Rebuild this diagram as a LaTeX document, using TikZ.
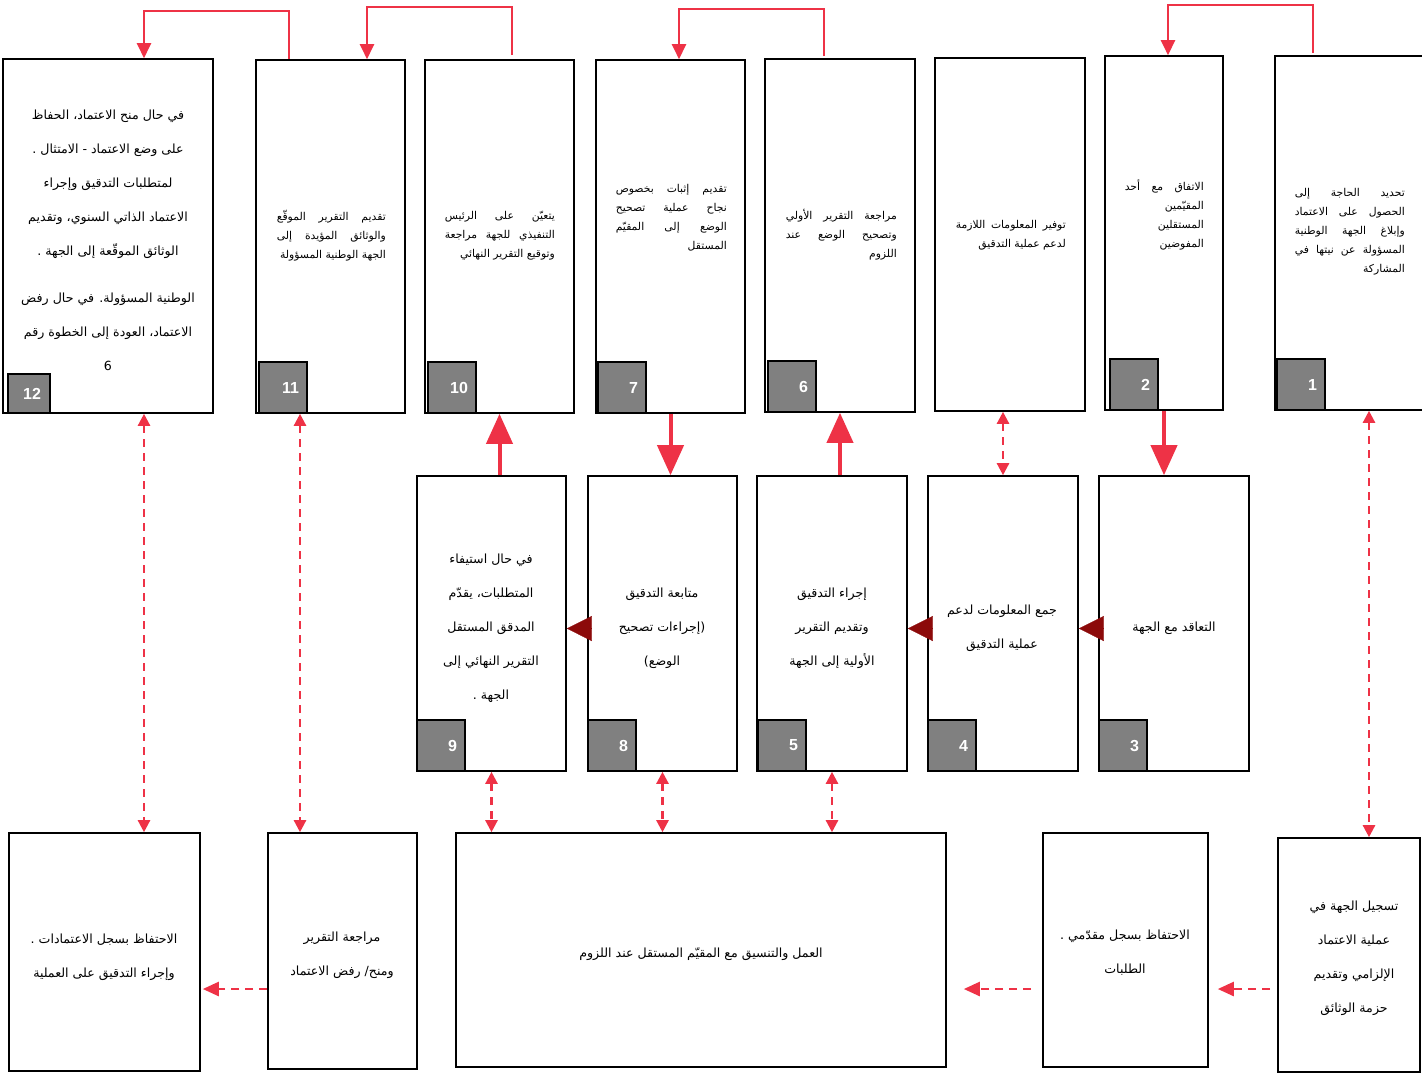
\documentclass[tikz,border=0pt]{standalone}
\usepackage{fontspec}
\usetikzlibrary{arrows.meta,calc}
\TeXXeTstate=1
\newfontfamily\arabicfont[Script=Arabic]{DejaVu Sans}
\newfontfamily\numfont{Liberation Sans}
\newcommand\RLline[1]{\beginR #1\endR}
\newcommand\JLine[2]{\hbox to #1{#2}}
\definecolor{arrred}{RGB}{238,50,70}
\definecolor{darkred}{RGB}{140,10,10}
\definecolor{tabgray}{RGB}{128,128,128}
\begin{document}
\begin{tikzpicture}[x=1pt,y=-1pt,
  stepbox/.style={draw=black,line width=1.6pt,fill=white,rectangle,inner sep=0pt},
  tabbox/.style={draw=black,line width=1.6pt,fill=tabgray,rectangle,inner xsep=8pt,inner ysep=0pt,
     minimum width=48pt,minimum height=51pt,text width=32pt,align=right,text=white,
     font=\numfont\bfseries\fontsize{16}{16}\selectfont,anchor=south west},
  toptext/.style={inner sep=0pt,align=right,font=\arabicfont\fontsize{10.8}{19}\selectfont,anchor=east},
  midtext/.style={inner sep=0pt,align=center,font=\arabicfont\fontsize{12.6}{34}\selectfont},
  bigarrow/.style={draw=arrred,line width=4pt,-{Triangle[width=26pt,length=30pt]}},
  darkarrow/.style={draw=darkred,line width=0.3pt,-{Triangle[width=25pt,length=25pt,fill=darkred]}},
  dashdbl/.style={draw=arrred,line width=2.4pt,dash pattern=on 8pt off 6pt,
     {Triangle[width=12pt,length=12pt]}-{Triangle[width=12pt,length=12pt]}},
  dashone/.style={draw=arrred,line width=2.4pt,dash pattern=on 8pt off 6pt,
     -{Triangle[width=14pt,length=16pt]}},
  elbow/.style={draw=arrred,line width=2.4pt,-{Triangle[width=14pt,length=15pt]}}
]
\useasboundingbox (0,0) rectangle (1422,1072);

% ---- top row boxes
\node[stepbox,minimum width=210pt,minimum height=354pt] (b12) at (108,236) {};
\node[stepbox,minimum width=149pt,minimum height=353pt] (b11) at (330.5,236.5) {};
\node[stepbox,minimum width=149pt,minimum height=353pt] (b10) at (499.5,236.5) {};
\node[stepbox,minimum width=149pt,minimum height=353pt] (b7) at (670.5,236.5) {};
\node[stepbox,minimum width=150pt,minimum height=353pt] (b6) at (840,235.5) {};
\node[stepbox,minimum width=150pt,minimum height=353pt] (b0) at (1010,234.5) {};
\node[stepbox,minimum width=118pt,minimum height=354pt] (b2) at (1164,233) {};
\node[stepbox,minimum width=157pt,minimum height=354pt] (b1) at (1353.5,233) {};

% ---- middle row boxes
\node[stepbox,minimum width=149pt,minimum height=295pt] (b9) at (491.5,623.5) {};
\node[stepbox,minimum width=149pt,minimum height=295pt] (b8) at (662.5,623.5) {};
\node[stepbox,minimum width=150pt,minimum height=295pt] (b5) at (832,623.5) {};
\node[stepbox,minimum width=150pt,minimum height=295pt] (b4) at (1003,623.5) {};
\node[stepbox,minimum width=150pt,minimum height=295pt] (b3) at (1174,623.5) {};

% ---- bottom row boxes
\node[stepbox,minimum width=191pt,minimum height=238pt] (bl1) at (104.5,952) {};
\node[stepbox,minimum width=149pt,minimum height=236pt] (bl2) at (342.5,951) {};
\node[stepbox,minimum width=490pt,minimum height=234pt] (bl3) at (701,950) {};
\node[stepbox,minimum width=165pt,minimum height=234pt] (bl4) at (1125.5,950) {};
\node[stepbox,minimum width=142pt,minimum height=234pt] (bl5) at (1349,955) {};

% ---- number tabs
\node[tabbox,minimum width=42pt,minimum height=39pt,text width=24pt,inner xsep=9pt] (n12) at ($(b12.south west)+(5,0)$) {12};
\node[tabbox] (n11) at ($(b11.south west)+(3,0)$) {11};
\node[tabbox] (n10) at ($(b10.south west)+(3,0)$) {10};
\node[tabbox] (n7) at ($(b7.south west)+(2,0)$) {7};
\node[tabbox] (n6) at ($(b6.south west)+(3,0)$) {6};
\node[tabbox] (n2) at ($(b2.south west)+(5,0)$) {2};
\node[tabbox] (n1) at ($(b1.south west)+(2,0)$) {1};
\node[tabbox] (n9) at ($(b9.south west)+(0,0)$) {9};
\node[tabbox] (n8) at ($(b8.south west)+(0,0)$) {8};
\node[tabbox] (n5) at ($(b5.south west)+(1,0)$) {5};
\node[tabbox] (n4) at ($(b4.south west)+(0,0)$) {4};
\node[tabbox] (n3) at ($(b3.south west)+(0,0)$) {3};

% ---- texts top row
\node[midtext] (t12) at (108,240) {%
\RLline{في حال منح الاعتماد، الحفاظ}\\
\RLline{على وضع الاعتماد - الامتثال .}\\
\RLline{لمتطلبات التدقيق وإجراء}\\
\RLline{الاعتماد الذاتي السنوي، وتقديم}\\
\RLline{الوثائق الموقّعة إلى الجهة .}\\[13pt]
\RLline{الوطنية المسؤولة.  في حال رفض}\\
\RLline{الاعتماد، العودة إلى الخطوة رقم}\\
6};
\node[toptext] (t11) at (386,236) {%
\JLine{109pt}{\beginR تقديم التقرير الموقّع\endR}\\
\JLine{109pt}{\beginR والوثائق المؤيدة إلى\endR}\\
\RLline{الجهة الوطنية المسؤولة}};
\node[toptext] (t10) at (555,236) {%
\JLine{110pt}{\beginR يتعيّن على الرئيس\endR}\\
\JLine{110pt}{\beginR التنفيذي للجهة مراجعة\endR}\\
\RLline{وتوقيع التقرير النهائي}};
\node[toptext] (t7) at (727,218) {%
\JLine{111pt}{\beginR تقديم إثبات بخصوص\endR}\\
\JLine{111pt}{\beginR نجاح عملية تصحيح\endR}\\
\JLine{111pt}{\beginR الوضع إلى المقيّم\endR}\\
\RLline{المستقل}};
\node[toptext] (t6) at (897,235) {%
\JLine{111pt}{\beginR مراجعة التقرير الأولي\endR}\\
\JLine{111pt}{\beginR وتصحيح الوضع عند\endR}\\
\RLline{اللزوم}};
\node[toptext] (t0) at (1066,235) {%
\JLine{110pt}{\beginR توفير المعلومات اللازمة\endR}\\
\RLline{لدعم عملية التدقيق}};
\node[toptext] (t2) at (1204,215) {%
\JLine{79pt}{\beginR الاتفاق مع أحد\endR}\\
\RLline{المقيّمين}\\
\RLline{المستقلين}\\
\RLline{المفوضين}};
\node[toptext] (t1) at (1405,232) {%
\JLine{110pt}{\beginR تحديد الحاجة إلى\endR}\\
\JLine{110pt}{\beginR الحصول على الاعتماد\endR}\\
\JLine{110pt}{\beginR وإبلاغ الجهة الوطنية\endR}\\
\JLine{110pt}{\beginR المسؤولة عن نيتها في\endR}\\
\RLline{المشاركة}};

% ---- texts middle row
\node[midtext] (t9) at (491,628) {%
\RLline{في حال استيفاء}\\
\RLline{المتطلبات، يقدّم}\\
\RLline{المدقق المستقل}\\
\RLline{التقرير النهائي إلى}\\
\RLline{الجهة .}};
\node[midtext] (t8) at (662,628) {%
\RLline{متابعة التدقيق}\\
\RLline{(إجراءات تصحيح}\\
\RLline{الوضع)}};
\node[midtext] (t5) at (832,628) {%
\RLline{إجراء التدقيق}\\
\RLline{وتقديم التقرير}\\
\RLline{الأولية إلى الجهة}};
\node[midtext] (t4) at (1002,628) {%
\RLline{جمع المعلومات لدعم}\\
\RLline{عملية التدقيق}};
\node[midtext] (t3) at (1174,628) {\RLline{التعاقد مع الجهة}};

% ---- texts bottom row
\node[midtext] (tb1) at (104,957) {%
\RLline{الاحتفاظ بسجل الاعتمادات .}\\
\RLline{وإجراء التدقيق على العملية}};
\node[midtext] (tb2) at (342,955) {%
\RLline{مراجعة التقرير}\\
\RLline{ومنح/ رفض الاعتماد}};
\node[midtext] (tb3) at (701,954) {\RLline{العمل والتنسيق مع المقيّم المستقل عند اللزوم}};
\node[midtext] (tb4) at (1125,953) {%
\RLline{الاحتفاظ بسجل مقدّمي .}\\
\RLline{الطلبات}};
\node[midtext] (tb5) at (1354,958) {%
\RLline{تسجيل الجهة في}\\
\RLline{عملية الاعتماد}\\
\RLline{الإلزامي وتقديم}\\
\RLline{حزمة الوثائق}};

% ---- helper coordinates
\coordinate (cx12) at (144,0);
\coordinate (cx11) at (300,0);
\coordinate (cx1) at (1369,0);
\coordinate (hy) at (0,989);
\coordinate (e1a) at (289,0);
\coordinate (e1b) at (144,0);
\coordinate (e2a) at (512,0);
\coordinate (e2b) at (367,0);
\coordinate (e3a) at (824,0);
\coordinate (e3b) at (679,0);
\coordinate (e4a) at (1313,0);
\coordinate (e4b) at (1168,0);

% ---- thick vertical arrows
\draw[bigarrow] (b9.north -| b10.south) -- (b10.south);
\draw[bigarrow] (b7.south) -- (b7.south |- b8.north);
\draw[bigarrow] (b6.south |- b5.north) -- (b6.south);
\draw[bigarrow] (b2.south) -- (b2.south |- b3.north);

% ---- dark red triangles
\draw[darkarrow] ($(b3.west)+(0,5)$) -- ($(b4.east)+(0,5)$);
\draw[darkarrow] ($(b4.west)+(0,5)$) -- ($(b5.east)+(0,5)$);
\draw[darkarrow] ($(b8.west)+(0,5)$) -- ($(b9.east)+(0,5)$);

% ---- dashed double arrows
\draw[dashdbl] (b4.north |- b0.south) -- (b4.north);
\draw[dashdbl] (b12.south -| cx12) -- (bl1.north -| cx12);
\draw[dashdbl] (b11.south -| cx11) -- (bl2.north -| cx11);
\draw[dashdbl] (b9.south) -- (b9.south |- bl3.north);
\draw[dashdbl] (b8.south) -- (b8.south |- bl3.north);
\draw[dashdbl] (b5.south) -- (b5.south |- bl3.north);
\draw[dashdbl] (b1.south -| cx1) -- (bl5.north -| cx1);

% ---- dashed horizontal arrows
\draw[dashone,shorten >=2pt] (bl2.west |- hy) -- (bl1.east |- hy);
\draw[dashone,shorten <=11pt,shorten >=17pt] (bl4.west |- hy) -- (bl3.east |- hy);
\draw[dashone,shorten <=7pt,shorten >=9pt] (bl5.west |- hy) -- (bl4.east |- hy);

% ---- top elbow connectors
\draw[elbow] (b11.north -| e1a) -- ++(0,-48) -| (b12.north -| e1b);
\draw[elbow] ($(b10.north -| e2a)+(0,-4)$) -- ++(0,-48) -| (b11.north -| e2b);
\draw[elbow] ($(b6.north -| e3a)+(0,-2)$) -- ++(0,-47) -| (b7.north -| e3b);
\draw[elbow] ($(b1.north -| e4a)+(0,-2)$) -- ++(0,-48) -| (b2.north -| e4b);
\end{tikzpicture}
\end{document}
